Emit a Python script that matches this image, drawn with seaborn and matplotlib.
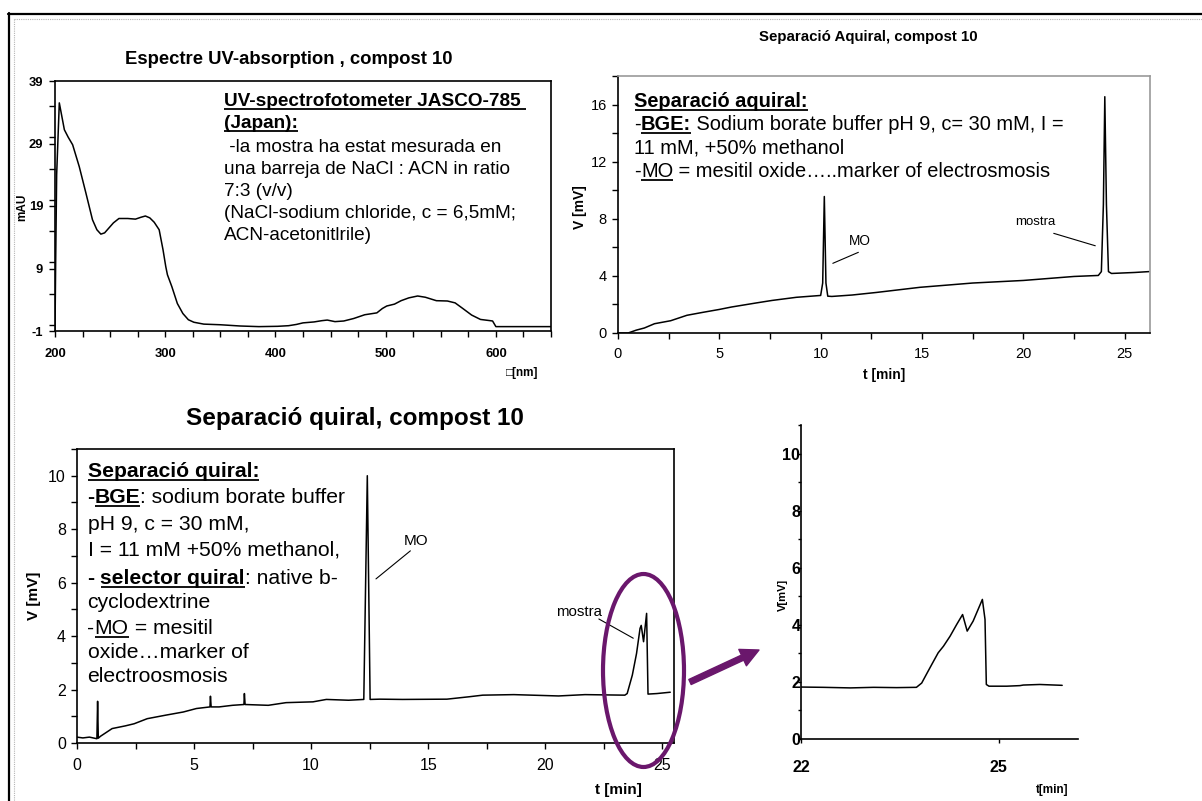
import matplotlib
matplotlib.use("Agg")
import matplotlib.pyplot as plt
import seaborn as sns
from matplotlib.lines import Line2D
from matplotlib.patches import Ellipse, FancyArrowPatch
from matplotlib.font_manager import FontProperties
from matplotlib.ticker import MultipleLocator, FixedLocator

# ---------------- data ----------------
# UV absorption spectrum of compound 10
uv_nm = [200, 200.6, 201.5, 203.9, 208.5, 212, 216, 222, 228, 234, 238, 241.6, 245, 249,
         253, 258, 266, 273, 278, 282, 286, 290, 294.5, 298, 300.5, 302, 306, 311, 316,
         321, 326, 335, 350, 368, 385, 402, 412, 419, 425, 435, 442, 447, 454, 462, 471,
         481, 492, 497, 501, 508, 514, 521, 529, 536, 546, 556, 563, 570, 578, 586, 595,
         597, 600, 650]
uv_mau = [-1.0, 10, 24, 35.5, 31.2, 30.0, 28.8, 25.3, 21.1, 16.8, 15.2, 14.5, 14.7, 15.5,
          16.3, 17.0, 17.0, 16.9, 17.2, 17.4, 17.1, 16.4, 15.2, 12.0, 9.3, 8.0, 6.1, 3.4, 1.8,
          0.8, 0.4, 0.1, 0.0, -0.2, -0.3, -0.25, -0.15, 0.05, 0.3, 0.45, 0.65, 0.75, 0.5, 0.6,
          1.0, 1.6, 1.9, 2.6, 3.0, 3.3, 3.85, 4.3, 4.6, 4.4, 3.85, 3.8, 3.5, 2.6, 1.55, 0.85,
          0.65, 0.6, -0.3, -0.3]

# achiral separation electropherogram
aq_t = [0, 0.5, 0.9, 1.3, 1.8, 2.6, 3.4, 4.2, 5.0, 5.6, 6.8, 7.6, 8.8, 10.0, 10.1, 10.18,
        10.26, 10.35, 10.55, 11.55, 12.75, 14.9, 17.5, 20.0, 22.5, 23.7, 23.85, 23.95, 24.02,
        24.1, 24.2, 24.35, 25.5, 26.2]
aq_v = [0, 0.0, 0.2, 0.35, 0.65, 0.86, 1.24, 1.45, 1.65, 1.82, 2.1, 2.28, 2.5, 2.63, 3.5,
        9.56, 3.5, 2.58, 2.56, 2.66, 2.84, 3.2, 3.5, 3.68, 3.96, 4.03, 4.3, 9.0, 16.55, 9.0,
        4.3, 4.17, 4.24, 4.3]

# chiral separation electropherogram
ch_t = [0, 0.25, 0.53, 0.85, 0.88, 0.91, 1.0, 1.5, 2.06, 2.44, 3.0, 3.78, 4.54, 5.1, 5.68,
        5.7, 5.73, 6.07, 6.64, 7.13, 7.15, 7.18, 8.17, 8.93, 10.08, 10.65, 11.6, 12.25, 12.4,
        12.52, 12.94, 13.9, 15.8, 16.75, 17.33, 18.66, 20.57, 21.7, 23.4, 23.5, 23.72, 23.9,
        24.05, 24.1, 24.2, 24.33, 24.39, 24.77, 25.34]
ch_v = [0.22, 0.19, 0.22, 0.16, 1.56, 0.18, 0.25, 0.54, 0.64, 0.72, 0.91, 1.04, 1.16, 1.29,
        1.35, 1.75, 1.35, 1.35, 1.41, 1.44, 1.85, 1.44, 1.41, 1.51, 1.54, 1.63, 1.6, 1.63,
        10.0, 1.63, 1.64, 1.63, 1.64, 1.73, 1.79, 1.81, 1.76, 1.81, 1.79, 1.85, 2.54, 3.35,
        4.29, 4.4, 3.79, 4.85, 1.83, 1.85, 1.9]

# enlarged view of the sample peaks
zm_t = [22.0, 22.34, 22.75, 23.1, 23.45, 23.75, 23.83, 23.9, 23.98, 24.08, 24.16, 24.26,
        24.36, 24.45, 24.52, 24.61, 24.75, 24.79, 24.81, 24.85, 25.12, 25.32, 25.37, 25.62,
        25.96]
zm_v = [1.82, 1.81, 1.79, 1.81, 1.8, 1.81, 1.96, 2.26, 2.6, 3.02, 3.25, 3.6, 4.01, 4.36,
        3.78, 4.13, 4.89, 4.19, 1.91, 1.85, 1.85, 1.87, 1.89, 1.91, 1.88]

uv_yticks = [-1, 9, 19, 29, 39]
zm_xticks = [22, 25]

# ---------------- style ----------------
sns.set_style("ticks")
FAMILY = ['Liberation Sans', 'DejaVu Sans']
plt.rcParams.update({
    'font.family': FAMILY,
    'text.color': 'black',
    'axes.labelcolor': 'black',
    'axes.edgecolor': 'black',
    'xtick.color': 'black',
    'ytick.color': 'black',
    'axes.unicode_minus': False,
})
PURPLE = '#6a176c'

W, H = 1202, 801
fig = plt.figure(figsize=(W / 100, H / 100), dpi=100)
fig.patch.set_facecolor('white')
renderer = fig.canvas.get_renderer()


def fx(x):
    return x / W


def fy(y):
    return 1 - y / H


def axes_px(left, top, right, bottom):
    return fig.add_axes([fx(left), fy(bottom), (right - left) / W, (bottom - top) / H])


def seg_width(s, size, bold):
    prop = FontProperties(family=FAMILY, size=size, weight='bold' if bold else 'normal')
    w1, _, _ = renderer.get_text_width_height_descent(s + "|", prop, ismath=False)
    w2, _, _ = renderer.get_text_width_height_descent("|", prop, ismath=False)
    return w1 - w2


def rich_line(x, y, segments, size, ul_gap=2.5, ul_lw=1.3):
    """Draw one text line made of (text, bold, underline) pieces; x, y in pixels (baseline)."""
    if isinstance(segments, str):
        segments = [(segments, False, False)]
    cx = x
    for text, bold, ul in segments:
        fig.text(fx(cx), fy(y), text, fontsize=size, color='black',
                 fontweight='bold' if bold else 'normal', ha='left', va='baseline')
        w = seg_width(text, size, bold)
        if ul:
            fig.add_artist(Line2D([fx(cx), fx(cx + w)], [fy(y + ul_gap)] * 2,
                                  color='black', lw=ul_lw, solid_capstyle='butt'))
        cx += w


def style_spines(ax, tr_color='black', lw=1.2, top_right=True):
    for s in ['left', 'bottom']:
        ax.spines[s].set_color('black')
        ax.spines[s].set_linewidth(lw)
    for s in ['top', 'right']:
        ax.spines[s].set_visible(top_right)
        ax.spines[s].set_color(tr_color)
        ax.spines[s].set_linewidth(lw)
    ax.grid(False)


# page frame
fig.add_artist(Line2D([fx(8.5), fx(8.5)], [fy(13), 0], color='black', lw=1.6))
fig.add_artist(Line2D([fx(8), 1], [fy(13.5), fy(13.5)], color='black', lw=1.6))
fig.add_artist(Line2D([fx(14), fx(14)], [fy(18.5), 0], color='#b4b4b4', lw=0.8, ls=(0, (1, 1))))
fig.add_artist(Line2D([fx(14), 1], [fy(18.5), fy(18.5)], color='#b4b4b4', lw=0.8, ls=(0, (1, 1))))

# ---------------- UV spectrum ----------------
ax1 = axes_px(55, 81, 551, 331)
sns.lineplot(x=uv_nm, y=uv_mau, ax=ax1, color='black', linewidth=1.1, estimator=None, sort=False)
ax1.set_xlim(200, 650)
ax1.set_ylim(-1, 39)
ax1.yaxis.set_major_locator(FixedLocator(uv_yticks))
ax1.yaxis.set_minor_locator(MultipleLocator(5))
ax1.xaxis.set_major_locator(MultipleLocator(100))
ax1.xaxis.set_minor_locator(MultipleLocator(25))
ax1.tick_params(which='both', direction='out', length=4.5, width=1.0, labelsize=9.4, pad=4)
ax1.tick_params(axis='x', pad=8)
for lbl in ax1.get_xticklabels() + ax1.get_yticklabels():
    lbl.set_fontweight('bold')
style_spines(ax1)
fig.text(fx(289), fy(59), "Espectre UV-absorption , compost 10", fontsize=13.3,
         fontweight='bold', ha='center', va='center')
fig.text(fx(22), fy(207), "mAU", fontsize=8.5, fontweight='bold', rotation=90,
         ha='center', va='center')
fig.text(fx(522), fy(373), "\u25a1[nm]", fontsize=8.5, fontweight='bold', ha='center', va='center')

uv_lines = [
    [("UV-spectrofotometer JASCO-785 ", True, True)],
    [("(Japan):", True, True)],
    " -la mostra ha estat mesurada en",
    "una barreja de NaCl : ACN in ratio",
    "7:3 (v/v)",
    "(NaCl-sodium chloride, c = 6,5mM;",
    "ACN-acetonitlrile)",
]
for yb, segs in zip([106, 128.5, 151.5, 173.5, 196, 218, 240], uv_lines):
    rich_line(224, yb, segs, 13.7)

# ---------------- achiral separation ----------------
ax2 = axes_px(618, 76, 1150, 333)
sns.lineplot(x=aq_t, y=aq_v, ax=ax2, color='black', linewidth=1.1, estimator=None, sort=False)
ax2.set_xlim(0, 26.25)
ax2.set_ylim(0, 18)
ax2.xaxis.set_major_locator(MultipleLocator(5))
ax2.xaxis.set_minor_locator(MultipleLocator(2.5))
ax2.yaxis.set_major_locator(MultipleLocator(4))
ax2.yaxis.set_minor_locator(MultipleLocator(2))
ax2.tick_params(which='both', direction='out', length=4, width=1.0, labelsize=10.5, pad=4)
ax2.tick_params(axis='x', pad=6)
style_spines(ax2, tr_color='#9a9a9a')
fig.text(fx(868), fy(37), "Separació Aquiral, compost 10", fontsize=10.8,
         fontweight='bold', ha='center', va='center')
fig.text(fx(580), fy(207), "V [mV]", fontsize=10, fontweight='bold', rotation=90,
         ha='center', va='center')
fig.text(fx(884), fy(375), "t [min]", fontsize=10, fontweight='bold', ha='center', va='center')
ax2.text(11.91, 6.46, "MO", fontsize=9.8, ha='center', va='center')
ax2.plot([11.86, 10.6], [5.65, 4.88], color='black', lw=0.8)
ax2.text(20.6, 7.75, "mostra", fontsize=9.5, ha='center', va='center')
ax2.plot([21.5, 23.55], [6.98, 6.11], color='black', lw=0.8)

aq_lines = [
    [("Separació aquiral:", True, True)],
    [("-", False, False), ("BGE:", True, True),
     (" Sodium borate buffer pH 9, c= 30 mM, I =", False, False)],
    "11 mM, +50% methanol",
    [("-", False, False), ("MO", False, True),
     (" = mesitil oxide\u2026..marker of electrosmosis", False, False)],
]
for yb, segs in zip([107, 130, 153, 177], aq_lines):
    rich_line(634.5, yb, segs, 14.4)

# ---------------- chiral separation ----------------
ax3 = axes_px(77, 449, 674, 743)
sns.lineplot(x=ch_t, y=ch_v, ax=ax3, color='black', linewidth=1.1, estimator=None, sort=False)
ax3.set_xlim(0, 25.5)
ax3.set_ylim(0, 11)
ax3.xaxis.set_major_locator(MultipleLocator(5))
ax3.xaxis.set_minor_locator(MultipleLocator(2.5))
ax3.yaxis.set_major_locator(FixedLocator([0, 2, 4, 6, 8, 10]))
ax3.yaxis.set_minor_locator(MultipleLocator(1))
ax3.tick_params(which='both', direction='out', length=4, width=1.0, labelsize=11.5, pad=4)
ax3.tick_params(axis='x', pad=7)
style_spines(ax3)
fig.text(fx(355), fy(418), "Separació quiral, compost 10", fontsize=17.5,
         fontweight='bold', ha='center', va='center')
fig.text(fx(34), fy(596), "V [mV]", fontsize=11, fontweight='bold', rotation=90,
         ha='center', va='center')
fig.text(fx(618), fy(790), "t [min]", fontsize=11, fontweight='bold', ha='center', va='center')
ax3.text(14.49, 7.57, "MO", fontsize=11, ha='center', va='center')
ax3.plot([14.24, 12.77], [7.19, 6.14], color='black', lw=0.8)
ax3.text(21.43, 4.92, "mostra", fontsize=10.8, ha='center', va='center')
ax3.plot([22.29, 23.76], [4.64, 3.92], color='black', lw=0.8)

ch_lines = [
    [("Separació quiral:", True, True)],
    [("-", True, False), ("BGE", True, True), (": sodium borate buffer", False, False)],
    "pH 9, c = 30 mM,",
    "I = 11 mM +50% methanol,",
    [("- ", True, False), ("selector quiral", True, True), (": native b-", False, False)],
    "cyclodextrine",
    [("-", False, False), ("MO", False, True), (" = mesitil", False, False)],
    "oxide\u2026marker of",
    "electroosmosis",
]
for yb, segs in zip([477, 503, 530, 555, 584, 608, 634, 658, 682], ch_lines):
    rich_line(87.5, yb, segs, 15.2)

# ---------------- enlarged sample region ----------------
ax4 = axes_px(801, 425, 1078, 739)
sns.lineplot(x=zm_t, y=zm_v, ax=ax4, color='black', linewidth=1.1, estimator=None, sort=False)
ax4.set_xlim(22, 26.2)
ax4.set_ylim(0, 11)
ax4.xaxis.set_major_locator(FixedLocator(zm_xticks))
ax4.yaxis.set_major_locator(FixedLocator([0, 2, 4, 6, 8, 10]))
ax4.yaxis.set_minor_locator(MultipleLocator(1))
ax4.tick_params(axis='y', which='both', direction='out', length=2.5, width=1.0,
                labelsize=11.5, pad=-2)
ax4.tick_params(axis='x', which='both', direction='out', length=3, width=1.0,
                labelsize=11.5, pad=12)
for lbl in ax4.get_xticklabels() + ax4.get_yticklabels():
    lbl.set_fontweight('bold')
style_spines(ax4, top_right=False)
fig.text(fx(783), fy(595), "V[mV]", fontsize=8, fontweight='bold', rotation=90,
         ha='center', va='center')
fig.text(fx(1052), fy(790), "t[min]", fontsize=8.5, fontweight='bold', ha='center', va='center')

# highlight of the sample peaks and pointer to the enlarged view
fig.add_artist(Ellipse((fx(643.5), fy(670.5)), 81 / W, 193 / H, transform=fig.transFigure,
                       fill=False, edgecolor=PURPLE, linewidth=3.0))
fig.add_artist(FancyArrowPatch((fx(690), fy(682)), (fx(759), fy(650)), transform=fig.transFigure,
                               arrowstyle='simple,head_length=13,head_width=13,tail_width=4',
                               mutation_scale=1, color=PURPLE, shrinkA=0, shrinkB=0))

fig.savefig("out.png", dpi=100)
